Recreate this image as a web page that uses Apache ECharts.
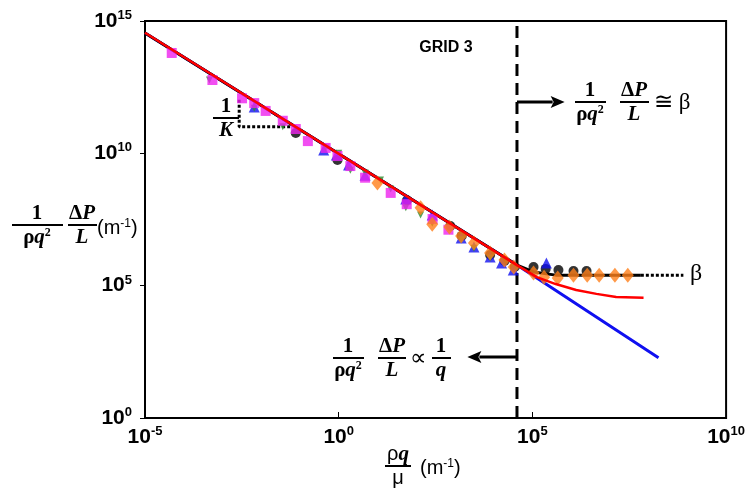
<!DOCTYPE html>
<html><head><meta charset="utf-8">
<script src="https://cdn.jsdelivr.net/npm/echarts@6/dist/echarts.min.js"></script>
<style>html,body{margin:0;padding:0;background:#fff}#c{width:748px;height:501px}</style>
</head><body><div id="c"></div>
<script>
// ---- data ----
const xTickExponents = [-5, 0, 5, 10];
const yTickExponents = [0, 5, 10, 15];

const blueLineX = [1e-5, 4.0e4, 1.8e8];
const blueLineY = [3.5e14, 6.0e5, 1.9e2];

const blackLineX = [1e-5, 4.0e4, 1.07e5, 4.0e5, 6.3e7];
const blackLineY = [3.5e14, 6.0e5, 3.3e5, 2.5e5, 2.5e5];

const betaDotX = [6.3e7, 7.9e8];
const betaDotY = [2.5e5, 2.5e5];

const redLineX = [1e-5, 4.0e4, 1.3e5, 4.0e5, 1.35e6, 4.5e6, 1.45e7, 7.4e7];
const redLineY = [3.6e14, 6.0e5, 2.1e5, 1.15e5, 6.9e4, 4.9e4, 3.7e4, 3.5e4];

const slopeDotX = [2.7e-3, 2.7e-3, 0.057];
const slopeDotY = [1.05e12, 1.0e11, 1.0e11];

const transitionX = 4.0e4;

const circleX = [7.8e-2, 0.93, 58, 7.6e2, 1.5e3, 8.1e3, 1.9e4, 3.5e4, 1.07e5, 2.2e5, 4.7e5, 1.15e6, 2.5e6];
const circleY = [5.9e10, 5.6e9, 1.7e8, 1.8e7, 7.6e6, 1.45e6, 8.5e5, 5.1e5, 5.1e5, 4.3e5, 3.9e5, 3.6e5, 3.6e5];

const triUpX = [6.6e-3, 0.41, 0.87, 1.8, 4.8, 54, 2.6e2, 1.45e3, 3.1e3, 8.1e3, 1.6e4, 3.2e4, 2.3e5];
const triUpY = [5.6e11, 1.35e10, 8.7e9, 3.6e9, 1.5e9, 1.9e8, 4.7e7, 6.3e6, 2.9e6, 1.2e6, 7.2e5, 3.9e5, 7.2e5];

const triDownX = [4.6e-4, 6.6e-3, 3.6e-2, 0.46, 1.0, 2.0, 4.8, 12, 22, 54, 1.3e2, 2.6e2, 1.45e3, 3.1e3, 8.1e3];
const triDownY = [5.9e12, 5.1e11, 1.0e11, 1.6e10, 1.0e10, 2.3e9, 1.8e9, 9.8e8, 4.5e8, 8.7e7, 4.7e7, 2.3e7, 5.4e6, 2.6e6, 1.1e6];

const squareX = [4.9e-5, 5.5e-4, 3.2e-3, 6.6e-3, 1.3e-2, 3.6e-2, 7.8e-2, 0.16, 0.46, 0.93, 2.0, 4.8, 22, 57, 265, 680];
const squareY = [6.2e13, 5.9e12, 1.2e12, 7.9e11, 4.0e11, 1.7e11, 8.3e10, 2.9e10, 1.6e10, 7.9e9, 3.3e9, 1.2e9, 3.2e8, 1.2e8, 3.3e7, 1.3e7];

const diamondX = [10, 1.3e2, 2.6e2, 7.2e2, 1.45e3, 3.1e3, 8.1e3, 1.9e4, 3.3e4, 1.07e5, 2.0e5, 4.5e5, 1.15e6, 2.6e6, 5.3e6, 1.35e7, 2.9e7];
const diamondY = [7.6e8, 8.7e7, 2.1e7, 1.65e7, 7.6e6, 4.1e6, 1.7e6, 9.4e5, 5.1e5, 3.0e5, 2.1e5, 1.95e5, 2.5e5, 2.5e5, 2.5e5, 2.5e5, 2.5e5];

const arrowRight = { x0: 4.0e4, x1: 6.8e5, y: 8.7e11 };
const arrowLeft = { x0: 4.0e4, x1: 2.1e3, y: 2.0e2 };

// ---- helpers ----
const zip = (xs, ys) => xs.map((x, i) => [x, ys[i]]);
const SERIF = 'Liberation Serif';
const SANS = 'Liberation Sans';

function tickFormatter(v) {
  const e = Math.round(Math.log10(v));
  if (xTickExponents.indexOf(e) < 0 && yTickExponents.indexOf(e) < 0) return '';
  return '{b|10}{s|' + e + '}';
}
const tickRich = {
  b: { fontFamily: SANS, fontWeight: 'bold', fontSize: 21, color: '#000', lineHeight: 24 },
  s: { fontFamily: SANS, fontWeight: 'bold', fontSize: 13, color: '#000', verticalAlign: 'top', lineHeight: 24 }
};

const fracRich = {
  u: { fontFamily: SERIF, fontWeight: 'bold', fontSize: 21, color: '#000' },
  i: { fontFamily: SERIF, fontWeight: 'bold', fontStyle: 'italic', fontSize: 21, color: '#000' },
  g: { fontFamily: SANS, fontSize: 20, color: '#000' },
  sup: { fontFamily: SERIF, fontWeight: 'bold', fontSize: 12, color: '#000', verticalAlign: 'top' }
};

function frac(cx, yBar, x0, x1, num, den) {
  return [
    { type: 'text', x: cx, y: yBar - 1, style: { text: num, rich: fracRich, align: 'center', verticalAlign: 'bottom' } },
    { type: 'line', shape: { x1: x0, y1: yBar, x2: x1, y2: yBar }, style: { stroke: '#000', lineWidth: 2 } },
    { type: 'text', x: cx, y: yBar + 2, style: { text: den, rich: fracRich, align: 'center', verticalAlign: 'top' } }
  ];
}
const unitRich = { g: { fontFamily: SANS, fontSize: 20, color: '#000' }, gs: { fontFamily: SANS, fontSize: 12, color: '#000', verticalAlign: 'top' } };

const graphics = [].concat(
  [{ type: 'text', x: 446, y: 48, style: { text: 'GRID 3', font: 'bold 16px "Liberation Sans"', fill: '#000', align: 'center', verticalAlign: 'middle' } }],
  [{ type: 'text', x: 690, y: 274, style: { text: 'β', font: '24px "Liberation Serif"', fill: '#000', align: 'left', verticalAlign: 'middle' } }],
  frac(226, 118, 213, 239, '{u|1}', '{i|K}'),
  frac(590, 102, 575, 606, '{u|1}', '{u|ρ}{i|q}{sup|2}'),
  frac(634, 102, 620, 649, '{u|Δ}{i|P}', '{i|L}'),
  [{ type: 'text', x: 654, y: 103, style: { text: '≅ β', font: '23px "Liberation Serif"', fill: '#000', align: 'left', verticalAlign: 'middle' } }],
  frac(348, 358, 333, 364, '{u|1}', '{u|ρ}{i|q}{sup|2}'),
  frac(392, 358, 378, 406, '{u|Δ}{i|P}', '{i|L}'),
  [{ type: 'text', x: 418, y: 359, style: { text: '∝', font: '23px "Liberation Serif"', fill: '#000', align: 'center', verticalAlign: 'middle' } }],
  frac(441, 358, 432, 451, '{u|1}', '{i|q}'),
  frac(37, 225, 12, 63, '{u|1}', '{u|ρ}{i|q}{sup|2}'),
  frac(82, 225, 68, 97, '{u|Δ}{i|P}', '{i|L}'),
  [{ type: 'text', x: 97, y: 228, style: { text: '{g|(m}{gs|-1}{g|)}', rich: unitRich, align: 'left', verticalAlign: 'middle' } }],
  frac(398, 466, 385, 411, '{g|ρ}{i|q}', '{g|μ}'),
  [{ type: 'text', x: 420, y: 468, style: { text: '{g|(m}{gs|-1}{g|)}', rich: unitRich, align: 'left', verticalAlign: 'middle' } }]
);

const chart = echarts.init(document.getElementById('c'), null, { renderer: 'canvas' });
chart.setOption({
  animation: false,
  backgroundColor: '#fff',
  grid: { left: 145, right: 17, top: 21, bottom: 83, show: true, borderColor: '#000', borderWidth: 2, backgroundColor: 'transparent' },
  xAxis: {
    type: 'log', logBase: 10, min: 1e-5, max: 1e10, interval: 5,
    axisLine: { show: true, lineStyle: { color: '#000', width: 2 } },
    axisTick: { show: true, inside: true, length: 6, lineStyle: { color: '#000', width: 1 } },
    axisLabel: { formatter: tickFormatter, rich: tickRich, margin: 7 },
    splitLine: { show: false }, minorTick: { show: false }
  },
  yAxis: {
    type: 'log', logBase: 10, min: 1, max: 1e15, interval: 5,
    axisLine: { show: true, lineStyle: { color: '#000', width: 2 } },
    axisTick: { show: true, inside: false, length: 5, lineStyle: { color: '#000', width: 1 } },
    axisLabel: { formatter: tickFormatter, rich: tickRich, margin: 13 },
    splitLine: { show: false }, minorTick: { show: false }
  },
  series: [
    { type: 'line', data: zip(blueLineX, blueLineY), symbol: 'none', lineStyle: { color: '#1010F0', width: 3 }, z: 2 },
    { type: 'line', data: zip(blackLineX, blackLineY), symbol: 'none', lineStyle: { color: '#000', width: 3 }, z: 2 },
    { type: 'line', data: zip(betaDotX, betaDotY), symbol: 'none', lineStyle: { color: '#000', width: 3, type: [3, 2] }, z: 2 },
    { type: 'line', data: zip(slopeDotX, slopeDotY), symbol: 'none', lineStyle: { color: '#000', width: 3, type: [3, 2] }, z: 2 },
    { type: 'line', data: [[transitionX, 1], [transitionX, 1e15]], symbol: 'none', lineStyle: { color: '#000', width: 3, type: [12, 7] }, z: 2 },
    { type: 'scatter', data: zip(circleX, circleY), symbol: 'circle', symbolSize: 10, itemStyle: { color: '#000' }, z: 3 },
    { type: 'scatter', data: zip(triUpX, triUpY), symbol: 'triangle', symbolSize: 11, itemStyle: { color: '#1010F0' }, z: 3 },
    { type: 'scatter', data: zip(triDownX, triDownY), symbol: 'triangle', symbolRotate: 180, symbolSize: 7, itemStyle: { color: '#2E8B2E' }, z: 3 },
    { type: 'scatter', data: zip(squareX, squareY), symbol: 'rect', symbolSize: 10, itemStyle: { color: '#EE22EE' }, z: 3 },
    { type: 'scatter', data: zip(diamondX, diamondY), symbol: 'diamond', symbolSize: [12, 15], itemStyle: { color: '#FF7F1A' }, z: 3 },
    { type: 'line', data: zip(redLineX, redLineY), symbol: 'none', lineStyle: { color: '#FF0000', width: 2.5 }, z: 4 }
  ],
  graphic: graphics
});

// arrows anchored to data coordinates
function arrowGraphic(a) {
  const p0 = chart.convertToPixel({ gridIndex: 0 }, [a.x0, a.y]);
  const p1 = chart.convertToPixel({ gridIndex: 0 }, [a.x1, a.y]);
  const dir = p1[0] > p0[0] ? 1 : -1;
  const headLen = 14, headHalf = 6;
  const base = p1[0] - dir * headLen;
  return [
    { type: 'line', shape: { x1: p0[0], y1: p0[1], x2: base + dir * 2, y2: p1[1] }, style: { stroke: '#000', lineWidth: 3 } },
    { type: 'polygon', shape: { points: [[p1[0], p1[1]], [base, p1[1] - headHalf], [base + dir * 3, p1[1]], [base, p1[1] + headHalf]] }, style: { fill: '#000' } }
  ];
}
chart.setOption({ graphic: graphics.concat(arrowGraphic(arrowRight), arrowGraphic(arrowLeft)) });
</script></body></html>
